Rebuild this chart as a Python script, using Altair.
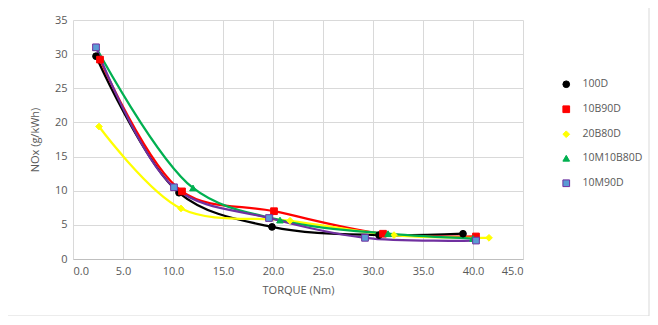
import altair as alt
import pandas as pd

series = ["100D", "10B90D", "20B80D", "10M10B80D", "10M90D"]
colors = ["#000000", "#ff0000", "#ffff00", "#00b050", "#7030a0"]
shapes = ["circle", "square", "diamond", "triangle-up", "square"]
fills = ["#000000", "#ff0000", "#ffff00", "#00b050", "#5b9bd5"]

torque = {
    "100D":      [2.3, 10.6, 19.9, 30.6, 39.0],
    "10B90D":    [2.7, 10.9, 20.1, 31.0, 40.3],
    "20B80D":    [2.6, 10.8, 21.7, 32.1, 41.6],
    "10M10B80D": [2.3, 12.0, 20.7, 31.5, 40.0],
    "10M90D":    [2.3, 10.1, 19.6, 29.2, 40.3],
}
nox = {
    "100D":      [29.7, 9.7, 4.7, 3.5, 3.7],
    "10B90D":    [29.2, 9.9, 7.0, 3.7, 3.3],
    "20B80D":    [19.4, 7.4, 5.6, 3.5, 3.1],
    "10M10B80D": [31.0, 10.4, 5.7, 3.7, 3.0],
    "10M90D":    [31.0, 10.5, 6.0, 3.1, 2.7],
}

rows = []
for s in series:
    for t, n in zip(torque[s], nox[s]):
        rows.append({"series": s, "torque": t, "nox": n})
df = pd.DataFrame(rows)

font = "Open Sans"
grey = "#595959"

x = alt.X("torque:Q", title="TORQUE (Nm)",
          scale=alt.Scale(domain=[0, 45], nice=False),
          axis=alt.Axis(values=list(range(0, 50, 5)), format=".1f"))
y = alt.Y("nox:Q", title="NOx (g/kWh)",
          scale=alt.Scale(domain=[0, 35], nice=False),
          axis=alt.Axis(values=list(range(0, 40, 5))))

legend = alt.Legend(title=None, orient="none", legendX=488, legendY=59, padding=0,
                    labelFont=font, labelFontSize=10.5, labelColor=grey,
                    symbolSize=45, rowPadding=13, symbolStrokeWidth=1, labelOffset=11)

stroke = alt.Stroke("series:N", sort=series,
                    scale=alt.Scale(domain=series, range=colors), legend=legend)

lines = alt.Chart(df).mark_line(interpolate="catmull-rom", strokeWidth=2.25).encode(
    x=x, y=y, stroke=stroke, detail="series:N")

points = alt.Chart(df).mark_point(filled=True, size=45, strokeWidth=1, opacity=1).encode(
    x=x, y=y,
    fill=alt.Fill("series:N", sort=series, scale=alt.Scale(domain=series, range=fills),
                  legend=legend),
    shape=alt.Shape("series:N", sort=series, scale=alt.Scale(domain=series, range=shapes),
                    legend=legend),
    stroke=stroke,
)

frame = alt.Chart(pd.DataFrame({"a": [0]})).mark_rect(
    fill=None, stroke="#d9d9d9", strokeWidth=1).encode(
    x=alt.value(-72), x2=alt.value(576), y=alt.value(-19), y2=alt.value(296))

chart = alt.layer(frame, lines, points).properties(
    width=450, height=239,
    autosize=alt.AutoSizeParams(type="none"),
    padding={"left": 65, "top": 12, "right": 127, "bottom": 57},
).configure_view(stroke=None).configure_axis(
    labelFont=font, titleFont=font, labelFontSize=11, titleFontSize=11,
    labelColor=grey, titleColor=grey, titleFontWeight="normal",
    gridColor="#d9d9d9", domainColor="#bfbfbf", ticks=False, labelPadding=6,
).configure_axisX(titlePadding=8).configure_axisY(titlePadding=14, domain=False)

chart.save("out.html", embed_options={"renderer": "svg", "actions": False})
